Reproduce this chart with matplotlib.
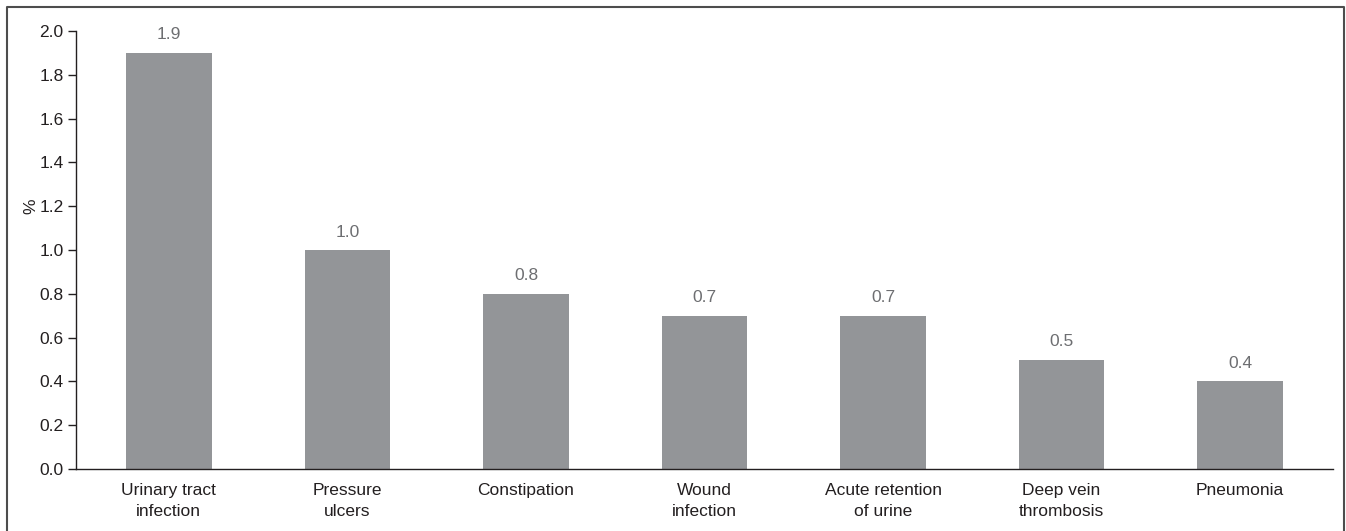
import matplotlib.pyplot as plt
import numpy as np
from matplotlib.lines import Line2D

plt.rcParams['font.family'] = ['Liberation Sans', 'DejaVu Sans']

# complications and their rates (%)
complications = ["Urinary tract\ninfection", "Pressure\nulcers", "Constipation",
                 "Wound\ninfection", "Acute retention\nof urine", "Deep vein\nthrombosis",
                 "Pneumonia"]
rates = [1.9, 1.0, 0.8, 0.7, 0.7, 0.5, 0.4]
yticks = [0.0, 0.2, 0.4, 0.6, 0.8, 1.0, 1.2, 1.4, 1.6, 1.8, 2.0]

fig = plt.figure(figsize=(13.46, 5.31), dpi=100)
ax = fig.add_axes([76 / 1346, 62 / 531, (1333 - 76) / 1346, 438 / 531])

x = np.arange(len(complications))
bars = ax.bar(x, rates, width=0.48, color='#939598')
for xi, r in zip(x, rates):
    ax.annotate(f"{r:.1f}", xy=(xi, r), xytext=(0, 7.5), textcoords='offset points',
                ha='center', va='bottom', fontsize=12.5, color='#6d6e71')

ax.set_xlim(-0.52, len(complications) - 0.48)
ax.set_ylim(0, 2.0)
ax.set_yticks(yticks)
ax.set_yticklabels([f"{t:.1f}" for t in yticks])
ax.set_xticks(x)
ax.set_xticklabels(complications, linespacing=1.5)
ax.tick_params(axis='x', length=0, pad=10, labelsize=12.5, colors='#231f20')
ax.tick_params(axis='y', direction='out', length=6, width=1, pad=3, labelsize=12.5,
               colors='#231f20')
for s in ['top', 'right']:
    ax.spines[s].set_visible(False)
for s in ['left', 'bottom']:
    ax.spines[s].set_color('#231f20')
    ax.spines[s].set_linewidth(1)

ax.set_ylabel('%', fontsize=12.5, color='#231f20')
ax.yaxis.set_label_coords(-0.030, 0.60)

# thin frame round the figure (left, top, right)
fx0, fx1 = 7 / 1346, 1344 / 1346
fy1 = 1 - 7 / 531
fig.add_artist(Line2D([fx0, fx0, fx1, fx1], [0, fy1, fy1, 0], color='#4d4d4d', lw=1.5))

fig.savefig('out.png', dpi=100)
